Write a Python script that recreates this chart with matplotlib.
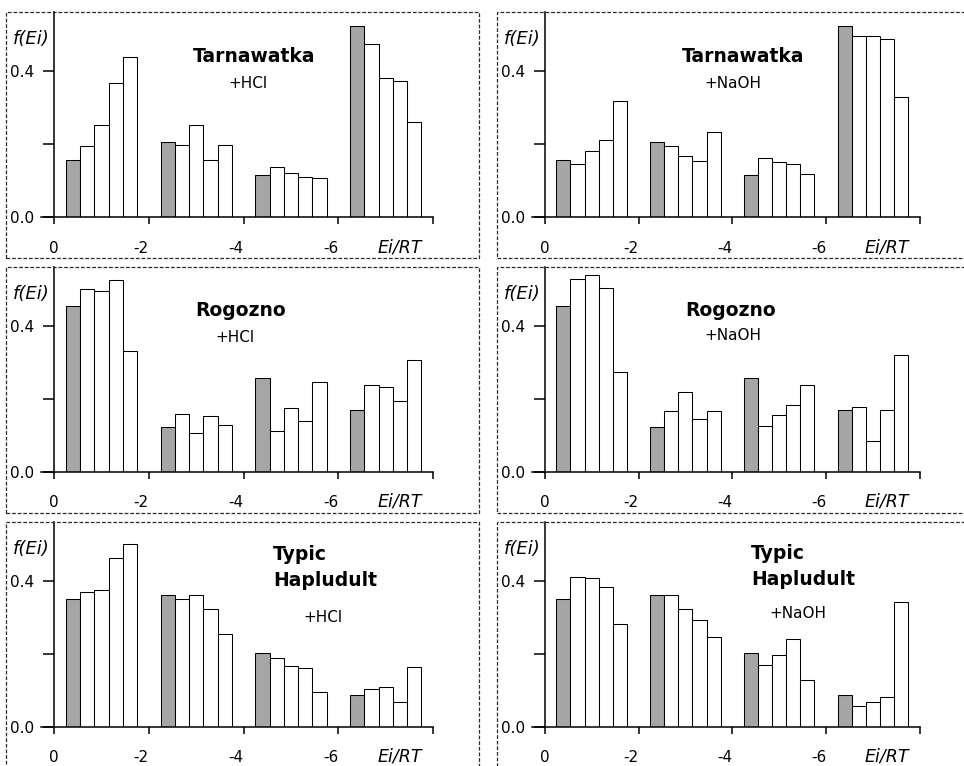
import matplotlib
matplotlib.use("Agg")
import matplotlib.pyplot as plt
from matplotlib.patches import Rectangle

# ---------------- data ----------------
x_ticks = [0, -2, -4, -6, -8]
x_tick_labels = ["0", "-2", "-4", "-6", ""]
y_ticks = [0.0, 0.2, 0.4]
y_tick_labels = ["0.0", "", "0.4"]
x_label = "Ei/RT"
y_label = "f(Ei)"

soils = ["Tarnawatka", "Rogozno", "Typic\nHapludult"]
treatments = ["+HCl", "+NaOH"]

# each row: 4 groups of 5 bars (first bar of group = initial, shaded)
tarnawatka_hcl = [[0.157, 0.195, 0.251, 0.366, 0.439],
                  [0.205, 0.198, 0.252, 0.155, 0.196],
                  [0.114, 0.138, 0.120, 0.109, 0.108],
                  [0.524, 0.474, 0.382, 0.373, 0.260]]
tarnawatka_naoh = [[0.157, 0.146, 0.181, 0.212, 0.319],
                   [0.205, 0.194, 0.168, 0.154, 0.233],
                   [0.114, 0.162, 0.151, 0.144, 0.117],
                   [0.524, 0.495, 0.495, 0.487, 0.330]]
rogozno_hcl = [[0.455, 0.501, 0.495, 0.525, 0.330],
               [0.123, 0.157, 0.106, 0.152, 0.128],
               [0.256, 0.111, 0.175, 0.139, 0.246],
               [0.168, 0.237, 0.231, 0.194, 0.305]]
rogozno_naoh = [[0.455, 0.529, 0.538, 0.503, 0.273],
                [0.123, 0.165, 0.219, 0.144, 0.165],
                [0.256, 0.126, 0.155, 0.183, 0.238],
                [0.168, 0.177, 0.085, 0.169, 0.321]]
hapludult_hcl = [[0.350, 0.369, 0.375, 0.463, 0.500],
                 [0.362, 0.350, 0.360, 0.322, 0.255],
                 [0.203, 0.188, 0.167, 0.160, 0.095],
                 [0.087, 0.103, 0.110, 0.068, 0.164]]
hapludult_naoh = [[0.350, 0.409, 0.407, 0.383, 0.282],
                  [0.362, 0.361, 0.322, 0.293, 0.245],
                  [0.203, 0.168, 0.197, 0.239, 0.127],
                  [0.087, 0.058, 0.069, 0.081, 0.343]]

panels = [[tarnawatka_hcl, tarnawatka_naoh],
          [rogozno_hcl, rogozno_naoh],
          [hapludult_hcl, hapludult_naoh]]

# ---------------- layout ----------------
W, H = 964, 766
fig = plt.figure(figsize=(W / 100, H / 100), dpi=100)
plt.rcParams['font.family'] = ['DejaVu Sans']

def fx(px):
    return px / W

def fy(py):
    return 1 - py / H

group_gap = 2.0       # each group spans 2 units of Ei/RT
group_offset = 0.25
bar_w = 0.3
xmin, xmax = 0.28, -8.0

col_axis_px = [54.0, 544.7]       # pixel x of Ei/RT = 0
col_unit_px = [47.4, 46.9]        # pixels per Ei/RT unit
row_top_px = [12.0, 267.0, 522.0]
row_zero_px = [217.0, 471.7, 726.7]
unit_y_px = 365.0
box_x = [(6, 479), (497, 972)]
box_y = [(12, 258), (267, 513), (522, 772)]

shade = '#a6a6a6'

title_pos = [[(254, 57), (743, 57)], [(240.7, 310), (731, 310)], [(273, 567.5), (751, 566.5)]]
treat_pos = [[(247.5, 83), (733, 83)], [(235, 337), (733, 336)], [(323, 618), (798, 613)]]

for r in range(3):
    for c in range(2):
        # dashed frame
        bx0, bx1 = box_x[c]
        by0, by1 = box_y[r]
        fig.patches.append(Rectangle((fx(bx0), fy(by1)), fx(bx1) - fx(bx0), fy(by0) - fy(by1),
                                     transform=fig.transFigure, fill=False,
                                     edgecolor='#2a2a2a', linewidth=0.9,
                                     linestyle=(0, (3, 1.5)), zorder=0))
        ax0 = col_axis_px[c]
        u = col_unit_px[c]
        left_px = ax0 - xmin * u
        right_px = ax0 - xmax * u
        top_px = row_top_px[r]
        zero_px = row_zero_px[r]
        ax = fig.add_axes([fx(left_px), fy(zero_px), fx(right_px) - fx(left_px), fy(top_px) - fy(zero_px)])
        ax.patch.set_alpha(0)
        ymax = (zero_px - top_px) / unit_y_px
        ax.set_xlim(xmin, xmax)
        ax.set_ylim(0, ymax)

        data = panels[r][c]
        for g, grp in enumerate(data):
            xs = [-(group_offset + g * group_gap + (i + 0.5) * bar_w) for i in range(len(grp))]
            colors = [shade] + ['white'] * (len(grp) - 1)
            ax.bar(xs, grp, width=bar_w, color=colors, edgecolor='black', linewidth=0.75, zorder=2)

        for s in ['top', 'right']:
            ax.spines[s].set_visible(False)
        ax.spines['left'].set_position(('data', 0))
        ax.spines['left'].set_linewidth(1.1)
        ax.spines['bottom'].set_linewidth(1.1)

        ax.set_xticks(x_ticks)
        ax.set_xticklabels(x_tick_labels, fontsize=11)
        for lab, t in zip(ax.get_xticklabels(), x_ticks):
            lab.set_ha('right' if t < 0 else 'center')
        ax.set_yticks(y_ticks)
        ax.set_yticklabels(y_tick_labels, fontsize=11)
        ax.tick_params(axis='x', direction='out', length=5, width=1.1, pad=12)
        ax.tick_params(axis='y', direction='out', length=8, width=1.1, pad=6)

        # axis labels
        ax.text(-7.3, -30 / (zero_px - top_px), x_label, transform=ax.get_xaxis_transform(),
                ha='center', va='center', fontsize=12.5, style='italic')
        fig.text(fx(ax0 - 23), fy(top_px + 27), y_label, ha='center', va='center',
                 fontsize=13, style='italic')

        # titles
        tx, ty = title_pos[r][c]
        if r == 2:
            fig.text(fx(tx), fy(ty), soils[r], ha='left', va='center', fontsize=13.5,
                     fontweight='bold', linespacing=1.5, multialignment='left')
        else:
            fig.text(fx(tx), fy(ty), soils[r], ha='center', va='center', fontsize=13.5,
                     fontweight='bold')
        px_, py_ = treat_pos[r][c]
        fig.text(fx(px_), fy(py_), treatments[c], ha='center', va='center', fontsize=11)

fig.savefig("out.png", dpi=100)
